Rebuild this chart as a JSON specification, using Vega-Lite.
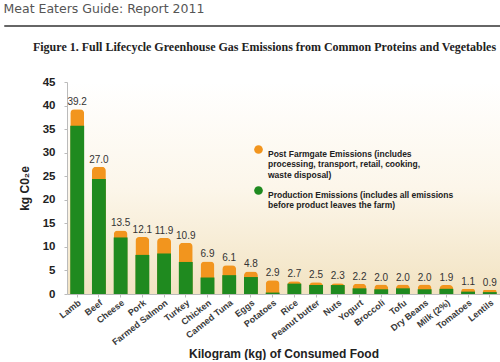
{
  "$schema": "https://vega.github.io/schema/vega-lite/v6.json",
  "background": "white",
  "padding": {"left": 3, "top": 3, "right": 0, "bottom": 0},
  "title": {"text": "Meat Eaters Guide: Report 2011", "anchor": "start", "frame": "bounds", "font": "DejaVu Sans", "fontSize": 12.5, "fontWeight": "normal", "color": "#555", "offset": 9},
  "spacing": 14,
  "config": {"view": {"stroke": null}, "font": "Liberation Sans"},
  "vconcat": [
    {
      "width": 497, "height": 1,
      "data": {"values": []},
      "mark": "point",
      "view": {"stroke": "#666", "strokeWidth": 1}
    },
    {
      "spacing": 13,
      "hconcat": [
        {
          "width": 1, "height": 1,
          "data": {"values": []},
          "mark": "point"
        },
        {
          "width": 433, "height": 212,
          "title": {"text": "Figure 1. Full Lifecycle Greenhouse Gas Emissions from Common Proteins and Vegetables", "font": "Liberation Serif", "fontSize": 12, "fontWeight": "bold", "color": "#222", "anchor": "middle", "frame": "group", "offset": 22, "dx": -19},
          "view": {"fill": {"gradient": "linear", "x1": 0, "y1": 0, "x2": 0, "y2": 1, "stops": [{"offset": 0, "color": "#ffffff"}, {"offset": 0.5, "color": "#FCF6EA"}, {"offset": 1, "color": "#F2E3C2"}]}},
          "data": {"values": [
            {"food": "Lamb", "production": 35.7, "total": 39.2},
            {"food": "Beef", "production": 24.4, "total": 27.0},
            {"food": "Cheese", "production": 12.0, "total": 13.5},
            {"food": "Pork", "production": 8.3, "total": 12.1},
            {"food": "Farmed Salmon", "production": 8.6, "total": 11.9},
            {"food": "Turkey", "production": 6.8, "total": 10.9},
            {"food": "Chicken", "production": 3.5, "total": 6.9},
            {"food": "Canned Tuna", "production": 4.0, "total": 6.1},
            {"food": "Eggs", "production": 3.6, "total": 4.8},
            {"food": "Potatoes", "production": 0.3, "total": 2.9},
            {"food": "Rice", "production": 2.2, "total": 2.7},
            {"food": "Peanut butter", "production": 1.9, "total": 2.5},
            {"food": "Nuts", "production": 1.9, "total": 2.3},
            {"food": "Yogurt", "production": 1.2, "total": 2.2},
            {"food": "Broccoli", "production": 1.0, "total": 2.0},
            {"food": "Tofu", "production": 1.2, "total": 2.0},
            {"food": "Dry Beans", "production": 1.0, "total": 2.0},
            {"food": "Milk (2%)", "production": 1.1, "total": 1.9},
            {"food": "Tomatoes", "production": 0.5, "total": 1.1},
            {"food": "Lentils", "production": 0.4, "total": 0.9}
          ]},
          "encoding": {
            "x": {"field": "food", "type": "nominal", "sort": null,
              "scale": {"paddingInner": 0.36, "paddingOuter": 0.15},
              "axis": {"title": "Kilogram (kg) of Consumed Food", "titleFontSize": 12, "titleFontWeight": "bold", "titleColor": "#222", "titlePadding": 2,
                "labelAngle": -38, "labelAlign": "right", "labelBaseline": "top", "labelFontSize": 9, "labelFontWeight": "bold", "labelColor": "#3a3a3a", "labelPadding": 1,
                "domainColor": "#bbb", "tickColor": "#bbb", "tickSize": 3}}
          },
          "layer": [
            {
              "mark": {"type": "bar", "cornerRadiusTopLeft": 4, "cornerRadiusTopRight": 4},
              "encoding": {
                "y": {"field": "total", "type": "quantitative", "scale": {"domain": [0, 45]},
                  "axis": {"title": "kg C0₂e", "titleFontSize": 12, "titleFontWeight": "bold", "titleColor": "#222", "titlePadding": 11,
                    "values": [0, 5, 10, 15, 20, 25, 30, 35, 40, 45], "tickCount": 10, "labelOverlap": false, "labelFontSize": 11.5, "labelFontWeight": "bold", "labelColor": "#222", "labelPadding": 9,
                    "grid": false, "domainColor": "#bbb", "tickColor": "#bbb", "tickSize": 3}},
                "color": {"datum": "Post", "type": "nominal",
                  "scale": {"domain": ["Post", "Production"], "range": ["#F2951E", "#1F8A1F"]},
                  "legend": {"title": null, "orient": "none", "legendX": 249, "legendY": 119, "symbolType": "circle", "symbolSize": 75,
                    "labelFontSize": 8.5, "labelFontWeight": "bold", "labelColor": "#222", "labelLimit": 300, "rowPadding": 6, "labelOffset": 4,
                    "labelExpr": "datum.label == 'Post' ? ['Post Farmgate Emissions (includes', 'processing, transport, retail, cooking,', 'waste disposal)'] : ['Production Emissions (includes all emissions', 'before product leaves the farm)']",
                    "labelBaseline": "top"}}
              }
            },
            {
              "mark": {"type": "bar"},
              "encoding": {
                "y": {"field": "production", "type": "quantitative",
                  "axis": {"title": "kg C0₂e", "titleFontSize": 12, "titleFontWeight": "bold", "titleColor": "#222", "titlePadding": 11,
                    "values": [0, 5, 10, 15, 20, 25, 30, 35, 40, 45], "tickCount": 10, "labelOverlap": false, "labelFontSize": 11.5, "labelFontWeight": "bold", "labelColor": "#222", "labelPadding": 9,
                    "grid": false, "domainColor": "#bbb", "tickColor": "#bbb", "tickSize": 3}},
                "color": {"datum": "Production", "type": "nominal"}
              }
            },
            {
              "mark": {"type": "text", "dy": -7, "fontSize": 10, "color": "#333"},
              "encoding": {
                "y": {"field": "total", "type": "quantitative",
                  "axis": {"title": "kg C0₂e", "titleFontSize": 12, "titleFontWeight": "bold", "titleColor": "#222", "titlePadding": 11,
                    "values": [0, 5, 10, 15, 20, 25, 30, 35, 40, 45], "tickCount": 10, "labelOverlap": false, "labelFontSize": 11.5, "labelFontWeight": "bold", "labelColor": "#222", "labelPadding": 9,
                    "grid": false, "domainColor": "#bbb", "tickColor": "#bbb", "tickSize": 3}},
                "text": {"field": "total", "type": "quantitative", "format": ".1f"}
              }
            }
          ]
        }
      ]
    }
  ]
}
